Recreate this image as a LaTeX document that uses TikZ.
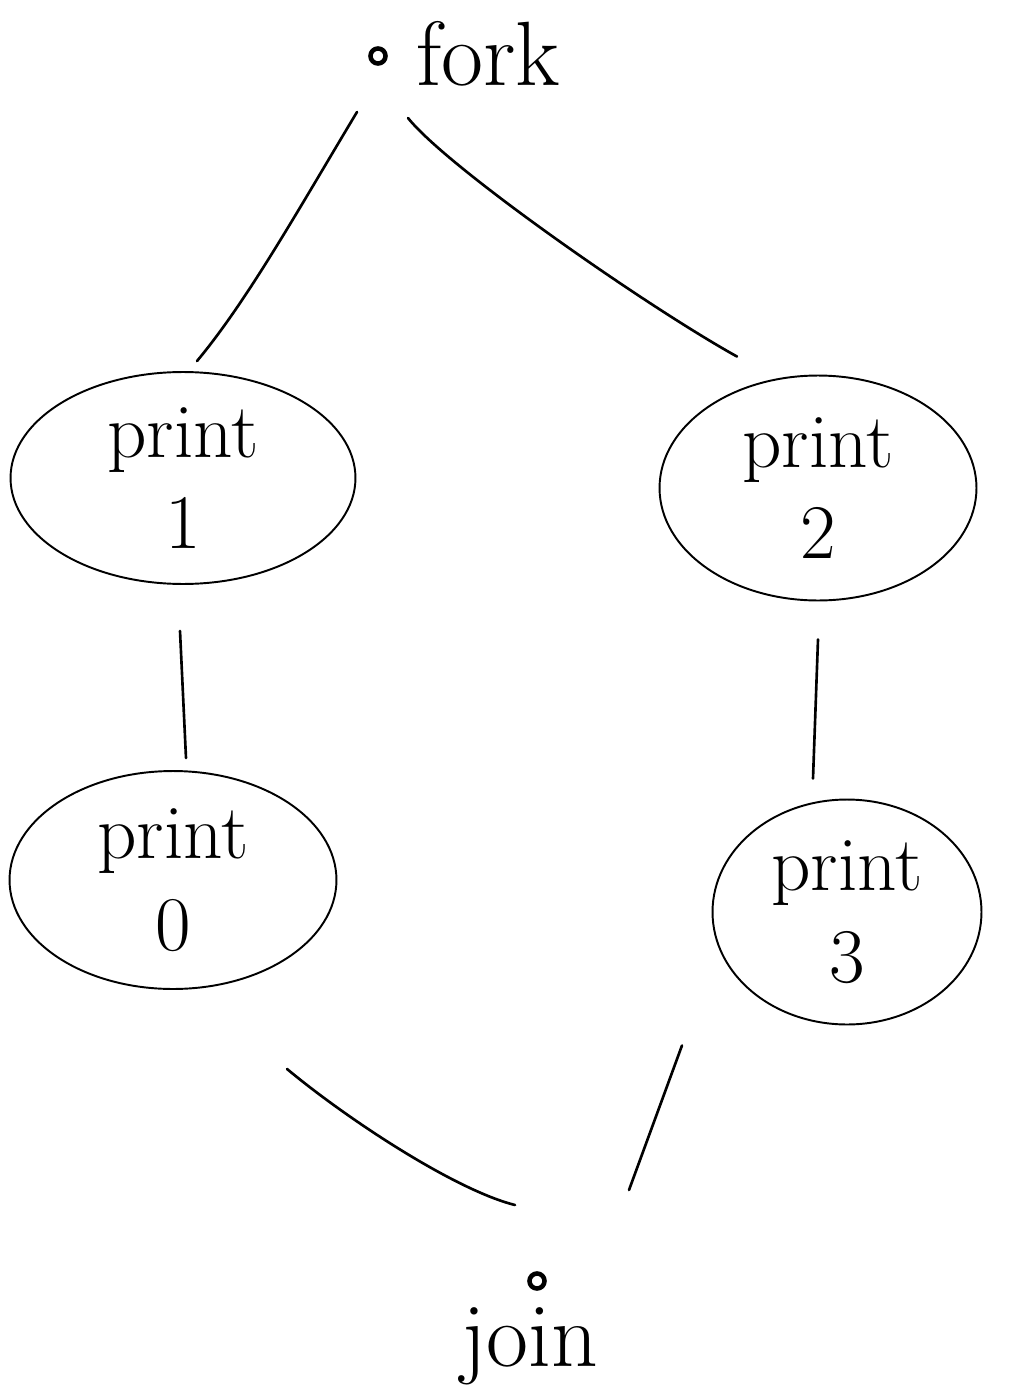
\documentclass[tikz,border=0pt]{standalone}
\usetikzlibrary{shapes.geometric}

\tikzset{
  blob/.style={draw,ellipse,line width=1.1pt,inner sep=0pt,align=center,
    font=\fontsize{44}{52}\selectfont},
  word/.style={inner sep=0pt,font=\fontsize{52}{56}\selectfont},
  dot/.style={draw,circle,line width=2.6pt,minimum size=0.3cm,inner sep=0pt},
  wire/.style={line width=1.5pt,line cap=round},
}

\begin{document}
\begin{tikzpicture}[x=0.02cm,y=-0.02cm]
    \useasboundingbox (0,0) rectangle (1014,1395);
    % fork point
    \node[dot] (forkdot) at (378,56) {};
    \node[word,anchor=base west] (fork) at (416,86) {fork};
    % the four print tasks
    \node[blob,minimum width=6.9cm,minimum height=4.24cm] (p1) at (183,478) {print\\1};
    \node[blob,minimum width=6.34cm,minimum height=4.5cm] (p2) at (818,488) {print\\2};
    \node[blob,minimum width=6.54cm,minimum height=4.36cm] (p0) at (173,880) {print\\0};
    \node[blob,minimum width=5.38cm,minimum height=4.5cm] (p3) at (847,912) {print\\3};
    % join point
    \node[dot] (joindot) at (537,1281) {};
    \node[word,anchor=base] (join) at (530,1366) {join};
    % edges
    \draw[wire] ([shift={(-21,56)}]forkdot.center) .. controls +(-60,100) and +(50,-60) .. ([shift={(14,-10)}]p1.north);
    \draw[wire] ([shift={(30,62)}]forkdot.center) .. controls +(40,50) and +(-90,-50) .. ([shift={(-81,-18)}]p2.north);
    \draw[wire] ([shift={(-3,46)}]p1.south) -- ([shift={(13,-12)}]p0.north);
    \draw[wire] ([shift={(0,38)}]p2.south) -- ([shift={(-34,-20)}]p3.north);
    \draw[wire] ([shift={(114,79)}]p0.south) .. controls +(60,50) and +(-60,-15) .. ([shift={(-22,-76)}]joindot.center);
    \draw[wire] ([shift={(-165,20)}]p3.south) -- ([shift={(92,-91)}]joindot.center);
\end{tikzpicture}
\end{document}
